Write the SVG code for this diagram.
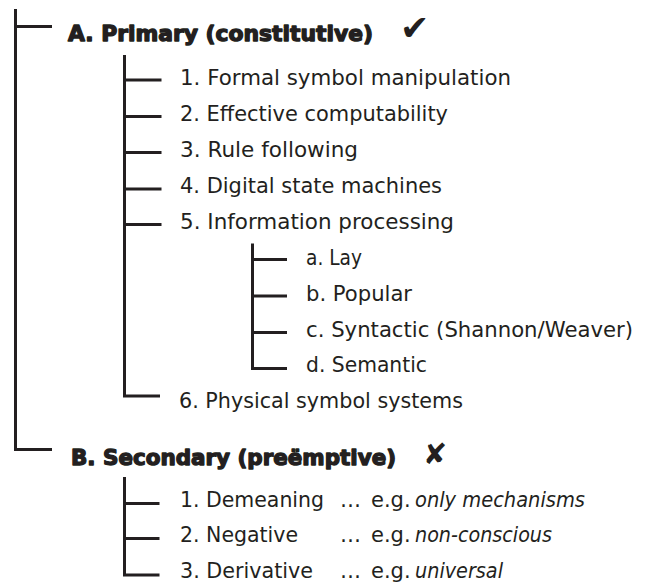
<svg xmlns="http://www.w3.org/2000/svg" width="645" height="582" viewBox="0 0 645 582">
<style>
.ln{fill:none;stroke:#231f20;stroke-width:3;stroke-linejoin:miter;stroke-linecap:butt}
.t{font-family:"DejaVu Sans","Liberation Sans",sans-serif;font-size:21px;fill:#231f20}
.h{font-family:"DejaVu Sans","Liberation Sans",sans-serif;font-size:20.5px;font-weight:bold;fill:#231f20;stroke:#231f20;stroke-width:1.3;stroke-linejoin:round}
.i{font-style:italic}
.sym{font-family:"DejaVu Sans",sans-serif;fill:#231f20}
</style>
<rect width="645" height="582" fill="#ffffff"/>
<g id="connectors">
<path class="ln" d="M15.5,9 V449.5 H52"/>
<path class="ln" d="M15.5,26.5 H52"/>
<path class="ln" d="M124.5,55 V396 H160"/>
<path class="ln" d="M124.5,80 H161.5 M124.5,116.5 H161.5 M124.5,152.5 H161.5 M124.5,189 H161.5 M124.5,224.5 H161.5"/>
<path class="ln" d="M252.5,243.5 V368.5 H287"/>
<path class="ln" d="M252.5,259.5 H287 M252.5,296 H287 M252.5,332.5 H287"/>
<path class="ln" d="M124.5,477 V575 H159.5"/>
<path class="ln" d="M124.5,503.5 H159.5 M124.5,538.5 H159.5"/>
</g>
<g id="nodeA">
<text class="h" x="68" y="40.7" textLength="305" lengthAdjust="spacingAndGlyphs">A. Primary (constitutive)</text>
<text class="sym" x="400" y="40" font-size="35">✔</text>
</g>
<g id="nodeA1"><text class="t" x="180" y="85" textLength="331" lengthAdjust="spacingAndGlyphs">1. Formal symbol manipulation</text></g>
<g id="nodeA2"><text class="t" x="180" y="121" textLength="268" lengthAdjust="spacingAndGlyphs">2. Effective computability</text></g>
<g id="nodeA3"><text class="t" x="180" y="157" textLength="178" lengthAdjust="spacingAndGlyphs">3. Rule following</text></g>
<g id="nodeA4"><text class="t" x="180" y="193" textLength="262" lengthAdjust="spacingAndGlyphs">4. Digital state machines</text></g>
<g id="nodeA5"><text class="t" x="180" y="228.5" textLength="274" lengthAdjust="spacingAndGlyphs">5. Information processing</text></g>
<g id="nodeA5a"><text class="t" x="306" y="265" textLength="56" lengthAdjust="spacingAndGlyphs">a. Lay</text></g>
<g id="nodeA5b"><text class="t" x="306" y="301" textLength="106" lengthAdjust="spacingAndGlyphs">b. Popular</text></g>
<g id="nodeA5c"><text class="t" x="306" y="337" textLength="327" lengthAdjust="spacingAndGlyphs">c. Syntactic (Shannon/Weaver)</text></g>
<g id="nodeA5d"><text class="t" x="306" y="372" textLength="121" lengthAdjust="spacingAndGlyphs">d. Semantic</text></g>
<g id="nodeA6"><text class="t" x="179" y="408" textLength="284" lengthAdjust="spacingAndGlyphs">6. Physical symbol systems</text></g>
<g id="nodeB">
<text class="h" x="71" y="465" textLength="325" lengthAdjust="spacingAndGlyphs">B. Secondary (preëmptive)</text>
<text class="sym" x="423" y="464" font-size="29">✘</text>
</g>
<g id="nodeB1">
<text class="t" x="180" y="507" textLength="144" lengthAdjust="spacingAndGlyphs">1. Demeaning</text>
<text class="t" x="340" y="507">…</text>
<text class="t" x="371" y="507">e.g.</text>
<text class="t i" x="415" y="507" textLength="170" lengthAdjust="spacingAndGlyphs">only mechanisms</text>
</g>
<g id="nodeB2">
<text class="t" x="180" y="542" textLength="118" lengthAdjust="spacingAndGlyphs">2. Negative</text>
<text class="t" x="340" y="542">…</text>
<text class="t" x="371" y="542">e.g.</text>
<text class="t i" x="415" y="542" textLength="137" lengthAdjust="spacingAndGlyphs">non-conscious</text>
</g>
<g id="nodeB3">
<text class="t" x="180" y="578" textLength="133" lengthAdjust="spacingAndGlyphs">3. Derivative</text>
<text class="t" x="340" y="578">…</text>
<text class="t" x="371" y="578">e.g.</text>
<text class="t i" x="415" y="578" textLength="88" lengthAdjust="spacingAndGlyphs">universal</text>
</g>
</svg>
